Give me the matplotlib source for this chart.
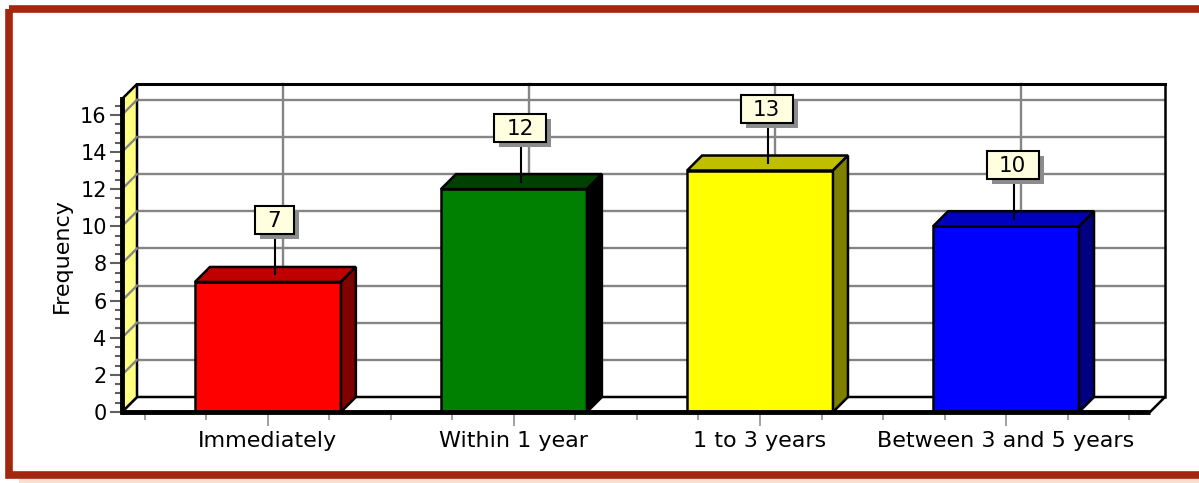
import matplotlib
matplotlib.use("Agg")
import matplotlib.pyplot as plt
import matplotlib.transforms as mtransforms
from matplotlib.patches import Polygon, Rectangle
import numpy as np

# ---- data ----
categories = ["Immediately", "Within 1 year", "1 to 3 years", "Between 3 and 5 years"]
values = [7, 12, 13, 10]
front_colors = ["#FF0000", "#008000", "#FFFF00", "#0000FF"]
top_colors = ["#BF0000", "#004000", "#BFBF00", "#0000BF"]
side_colors = ["#800000", "#000000", "#808000", "#000080"]
y_ticks = [0, 2, 4, 6, 8, 10, 12, 14, 16]
y_label = "Frequency"

W, H, DPI = 1199, 483, 100
fig = plt.figure(figsize=(W / DPI, H / DPI), dpi=DPI)
fig.patch.set_facecolor("white")

# outer frame
frame_ax = fig.add_axes([0, 0, 1, 1])
frame_ax.set_xlim(0, W)
frame_ax.set_ylim(H, 0)
frame_ax.axis("off")
frame_ax.add_patch(Rectangle((19, 477), W, 8, facecolor="#F8DFCF", edgecolor="none"))
frame_ax.add_patch(Rectangle((8.5, 8.5), W + 20, 466, facecolor="none",
                             edgecolor="#A3260F", linewidth=5.5))

# main axes (front plane)
x_left_px, x_right_px = 122, 1150
y_bot_px, y_top_px = 412, 99
ax = fig.add_axes([x_left_px / W, (H - y_bot_px) / H,
                   (x_right_px - x_left_px) / W, (y_bot_px - y_top_px) / H])
XMIN, XMAX = -0.593, 3.585
YMAX = 16.85
ax.set_xlim(XMIN, XMAX)
ax.set_ylim(0, YMAX)
ax.patch.set_alpha(0)
for s in ax.spines.values():
    s.set_visible(False)

DEPTH = 15  # px
dx = DEPTH * (XMAX - XMIN) / (x_right_px - x_left_px)
dy = DEPTH * YMAX / (y_bot_px - y_top_px)

GRID = "#858585"
# back wall
ax.add_patch(Rectangle((XMIN + dx, dy), XMAX - XMIN, YMAX, facecolor="white",
                       edgecolor="none", clip_on=False, zorder=0))
for v in y_ticks[1:]:
    ax.plot([XMIN + dx, XMAX + dx], [v + dy, v + dy], color=GRID, lw=1.7,
            clip_on=False, zorder=1)
for i in range(len(categories)):
    ax.plot([i + dx, i + dx], [dy, YMAX + dy], color=GRID, lw=1.7, clip_on=False, zorder=1)
# back wall border
ax.plot([XMIN + dx, XMAX + dx, XMAX + dx], [YMAX + dy, YMAX + dy, dy], color="black",
        lw=1.8, clip_on=False, zorder=2)
ax.plot([XMIN + dx, XMAX + dx], [YMAX + dy, YMAX + dy], color="black", lw=2.2,
        clip_on=False, zorder=2)
# floor
ax.add_patch(Polygon([(XMIN, 0), (XMIN + dx, dy), (XMAX + dx, dy), (XMAX, 0)],
                     closed=True, facecolor="white", edgecolor="black", lw=1.8,
                     clip_on=False, zorder=2))
ax.plot([XMIN, XMAX], [0, 0], color="black", lw=3.5, clip_on=False, zorder=6,
        solid_capstyle="butt")
# left wall
ax.add_patch(Polygon([(XMIN, 0), (XMIN + dx, dy), (XMIN + dx, YMAX + dy), (XMIN, YMAX)],
                     closed=True, facecolor="#FFFF80", edgecolor="black", lw=1.8,
                     clip_on=False, zorder=2))
for v in y_ticks[1:]:
    ax.plot([XMIN, XMIN + dx], [v, v + dy], color=GRID, lw=1.7, clip_on=False, zorder=3)
ax.plot([XMIN, XMIN], [0, YMAX], color="black", lw=3.5, clip_on=False, zorder=6)

# bars
BW = 0.593
ax.bar(range(len(values)), values, width=BW, color=front_colors, edgecolor="black",
       linewidth=1.8, zorder=4)
for i, v in enumerate(values):
    x0, x1 = i - BW / 2, i + BW / 2
    ax.add_patch(Polygon([(x0, v), (x0 + dx, v + dy), (x1 + dx, v + dy), (x1, v)],
                         closed=True, facecolor=top_colors[i], edgecolor="black",
                         lw=1.8, zorder=4, clip_on=False))
    ax.add_patch(Polygon([(x1, 0), (x1 + dx, dy), (x1 + dx, v + dy), (x1, v)],
                         closed=True, facecolor=side_colors[i], edgecolor="black",
                         lw=1.8, zorder=4, clip_on=False))

# value labels
FS = 15
for i, v in enumerate(values):
    xm, ym = i + dx / 2, v + dy / 2
    tr = mtransforms.ScaledTranslation(xm, ym, ax.transData)
    txt = str(v)
    bw = 26 + 13 * len(txt)
    bh = 28
    bx0 = -1 - bw / 2
    by0 = 40
    ax.plot([0, 0], [0, by0], color="black", lw=1.5, transform=tr, zorder=7,
            clip_on=False)
    ax.add_patch(Rectangle((bx0 + 5, by0 - 5), bw, bh, facecolor="#8C8C8C",
                           edgecolor="none", transform=tr, zorder=7, clip_on=False))
    ax.add_patch(Rectangle((bx0, by0), bw, bh, facecolor="#FFFFE0", edgecolor="black",
                           lw=1.5, transform=tr, zorder=8, clip_on=False))
    ax.text(bx0 + bw / 2, by0 + bh / 2 - 1, txt, transform=tr, ha="center", va="center",
            fontsize=FS + 0.5, zorder=9, clip_on=False)

# y ticks
ax.set_yticks(y_ticks)
ax.set_yticklabels([str(t) for t in y_ticks], fontsize=FS)
ax.set_yticks(np.arange(0, 17, 0.5), minor=True)
ax.tick_params(axis="y", which="major", length=9, width=1.5, color="#606060", pad=2)
ax.tick_params(axis="y", which="minor", length=5, width=1.5, color="#606060")
ax.set_ylabel(y_label, fontsize=16, labelpad=6)

# x ticks
ax.set_xticks(range(len(categories)))
ax.set_xticklabels(categories, fontsize=16)
ax.set_xticks(np.arange(-0.5, 3.6, 0.25), minor=True)
ax.tick_params(axis="x", which="major", length=10, width=1.2, color="#909090", pad=4)
ax.tick_params(axis="x", which="minor", length=6, width=1.2, color="#909090")

fig.savefig("out.png", dpi=DPI, facecolor="white")
